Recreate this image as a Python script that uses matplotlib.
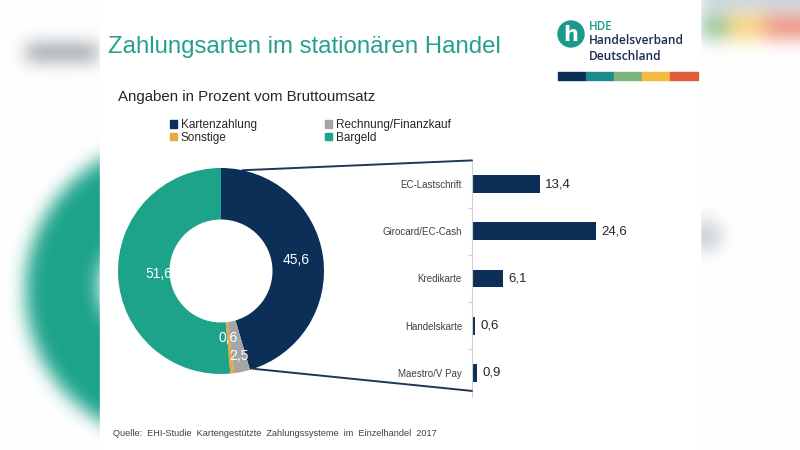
import numpy as np
import matplotlib.pyplot as plt
from matplotlib.patches import Rectangle, Circle, ConnectionPatch

plt.rcParams['font.family'] = ['Liberation Sans', 'DejaVu Sans']

# data
pie_labels = ['Kartenzahlung', 'Rechnung/Finanzkauf', 'Sonstige', 'Bargeld']
pie_values = [45.6, 2.5, 0.6, 51.6]
pie_colors = ['#0c2f57', '#a5a5a5', '#e9a83c', '#1ca38a']

bar_labels = ['EC-Lastschrift', 'Girocard/EC-Cash', 'Kredikarte', 'Handelskarte', 'Maestro/V Pay']
bar_values = [13.4, 24.6, 6.1, 0.6, 0.9]

logo_colors = ['#0c2f57', '#1b8b8c', '#7cb47f', '#f3b941', '#e25b3b']

W, H = 800, 450


def px(x0, y0, x1, y1):
    # pixel box (top-left origin) -> figure rect
    return [x0 / W, 1 - y1 / H, (x1 - x0) / W, (y1 - y0) / H]


def de(v):
    return f'{v:.1f}'.replace('.', ',')


def blur(img, sigma):
    r = int(3 * sigma)
    k = np.exp(-np.arange(-r, r + 1) ** 2 / (2 * sigma ** 2))
    k /= k.sum()
    pad = np.pad(img, ((r, r), (r, r), (0, 0)), mode='edge')
    tmp = np.apply_along_axis(lambda m: np.convolve(m, k, mode='valid'), 0, pad)
    return np.apply_along_axis(lambda m: np.convolve(m, k, mode='valid'), 1, tmp)


fig = plt.figure(figsize=(8, 4.5), dpi=100)

# blurred backdrop behind the slide
yy, xx = np.mgrid[0:H, 0:W]
bg = np.ones((H, W, 3))
bg[(xx - 175) ** 2 + (yy - 290) ** 2 < 150 ** 2] = [0.11, 0.64, 0.54]
bg[(xx - 150) ** 2 + (yy - 285) ** 2 < 52 ** 2] = [1, 1, 1]
bg[(yy > 44) & (yy < 60) & (xx > 25) & (xx < 98)] = [0.55, 0.58, 0.61]
bg[(yy < 12) & (xx > 700)] = [0.80, 0.84, 0.86]
bg[(yy > 15) & (yy < 38) & (xx > 700) & (xx < 727)] = [0.55, 0.75, 0.58]
bg[(yy > 15) & (yy < 38) & (xx >= 727) & (xx < 765)] = [0.98, 0.82, 0.45]
bg[(yy > 15) & (yy < 38) & (xx >= 765)] = [0.93, 0.55, 0.48]
bg[(xx - 705) ** 2 + (yy - 235) ** 2 < 16 ** 2] = [0.78, 0.81, 0.83]
bg = np.clip(blur(bg, 9), 0, 1)

ax_bg = fig.add_axes([0, 0, 1, 1])
ax_bg.imshow(bg, extent=[0, W, H, 0], aspect='auto')
ax_bg.add_patch(Rectangle((100, 0), 600, H, color='white', zorder=2))
ax_bg.set_xlim(0, W)
ax_bg.set_ylim(H, 0)
ax_bg.axis('off')

# title, subtitle, source
fig.text(108 / W, 1 - 47 / H, 'Zahlungsarten im stationären Handel', fontsize=17.3,
         color='#27a08b', va='center')
fig.text(118 / W, 1 - 97 / H, 'Angaben in Prozent vom Bruttoumsatz', fontsize=10.8,
         color='#262626', va='center')
fig.text(113 / W, 1 - 433 / H,
         'Quelle:  EHI-Studie  Kartengestützte  Zahlungssysteme  im  Einzelhandel  2017',
         fontsize=6.6, color='#404040', va='center')

# logo
ax_bg.add_patch(Circle((571, 34), 13, color='#1b9a8c', zorder=3))
ax_bg.text(571, 35, 'h', fontsize=15, fontweight='bold', color='white',
           ha='center', va='center', zorder=4, family='DejaVu Sans')
ax_bg.text(589, 26, 'HDE', fontsize=8.3, color='#1b9a8c', va='center', zorder=4,
           family='Open Sans', fontweight='semibold')
ax_bg.text(589, 41, 'Handelsverband', fontsize=8.6, color='#1c2b4d', va='center',
           zorder=4, family='Open Sans', fontweight='semibold')
ax_bg.text(589, 57, 'Deutschland', fontsize=8.6, color='#1c2b4d', va='center',
           zorder=4, family='Open Sans', fontweight='semibold')
for i, c in enumerate(logo_colors):
    ax_bg.add_patch(Rectangle((558 + i * 28, 72), 28, 8, color=c, zorder=3))

# donut
ax_pie = fig.add_axes(px(118, 168, 324, 374))
wedges, _ = ax_pie.pie(pie_values, colors=pie_colors, startangle=90, counterclock=False,
                       radius=1, wedgeprops=dict(width=0.5, linewidth=0))
ax_pie.set_xlim(-1, 1)
ax_pie.set_ylim(-1, 1)
ax_pie.set_aspect('equal')
ax_pie.axis('off')

label_r = [0.74, 0.84, 0.65, 0.6]
for w, v, r in zip(wedges, pie_values, label_r):
    ang = np.deg2rad((w.theta1 + w.theta2) / 2)
    ax_pie.text(r * np.cos(ang), r * np.sin(ang), de(v), fontsize=10, color='white',
                ha='center', va='center')

# legend
handles = [Rectangle((0, 0), 1, 1, color=c) for c in pie_colors]
order = [0, 2, 1, 3]
fig.legend([handles[i] for i in order], [pie_labels[i] for i in order], ncol=2,
           loc='upper left', bbox_to_anchor=(170 / W, 1 - 119 / H), frameon=False,
           fontsize=8.5, handlelength=0.6, handleheight=0.6, handletextpad=0.3,
           columnspacing=5.8, labelspacing=0.05, borderpad=0, borderaxespad=0,
           labelcolor='#262626')

# bars
ax_bar = fig.add_axes(px(472, 160.4, 680, 396.6))
y = np.arange(len(bar_values))
ax_bar.barh(y, bar_values, height=0.38, color='#0c2f57')
ax_bar.set_ylim(len(bar_values) - 0.5, -0.5)
ax_bar.set_xlim(0, 208 / 5.04)
ax_bar.set_yticks(y)
ax_bar.set_yticklabels(bar_labels, fontsize=7, color='#404040')
ax_bar.set_yticks(y[:-1] + 0.5, minor=True)
ax_bar.tick_params(axis='y', which='major', length=0, pad=7.2)
ax_bar.tick_params(axis='y', which='minor', length=3, color='#d0d0d0', width=0.8)
ax_bar.set_xticks([])
for s in ['top', 'right', 'bottom']:
    ax_bar.spines[s].set_visible(False)
ax_bar.spines['left'].set_color('#d0d0d0')
ax_bar.spines['left'].set_linewidth(0.8)
ax_bar.patch.set_alpha(0)
for yi, v in zip(y, bar_values):
    ax_bar.annotate(de(v), (v, yi), xytext=(4, 0), textcoords='offset points',
                    fontsize=9.5, color='#262626', va='center', ha='left')

# bar-of-pie connectors
a_top = np.deg2rad(wedges[0].theta2 - 12)
a_bot = np.deg2rad(wedges[0].theta1 + 2)
for a, yb in [(a_top, 1.0), (a_bot, 0.024)]:
    con = ConnectionPatch(xyA=(np.cos(a), np.sin(a)), coordsA=ax_pie.transData,
                          xyB=(0, yb), coordsB=ax_bar.transAxes,
                          color='#1f3656', linewidth=1.4)
    fig.add_artist(con)

fig.savefig('out.png', dpi=100)
